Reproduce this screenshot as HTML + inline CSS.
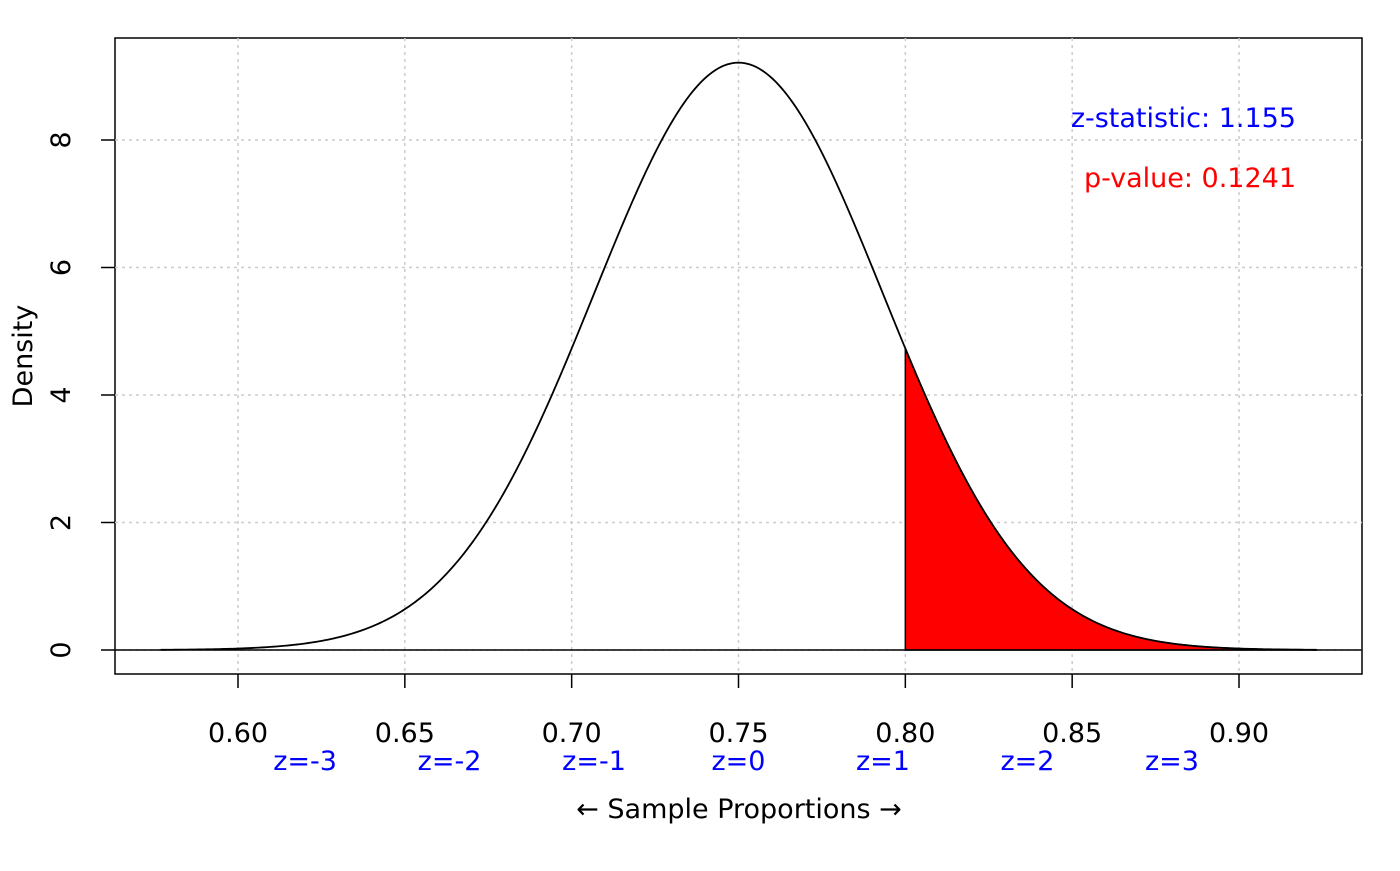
<!DOCTYPE html>
<html><head><meta charset="utf-8"><style>
body{margin:0;background:#fff}
svg text{font-family:"DejaVu Sans","Liberation Sans",sans-serif}
</style></head><body>
<svg id="chart" width="1400" height="866" viewBox="0 0 1400 866" xmlns="http://www.w3.org/2000/svg">
<rect x="115" y="38" width="1247" height="636" fill="none" stroke="#000" stroke-width="1.5"/>
<g id="grid"></g>
<g id="marks"></g>
<g id="axes"></g>
<text x="739" y="818" font-size="27" text-anchor="middle">← Sample Proportions →</text>
<text transform="translate(32,356) rotate(-90)" font-size="27" text-anchor="middle">Density</text>
<text x="1296" y="127" font-size="27" text-anchor="end" fill="#0000ff">z-statistic: 1.155</text>
<text x="1296" y="187" font-size="27" text-anchor="end" fill="#ff0000">p-value: 0.1241</text>
</svg>
<script>
const meanValue = [0.75];
const sdValue = [0.0433];
const observedValue = [0.80];
const xTicks = [0.60,0.65,0.70,0.75,0.80,0.85,0.90];
const xTickLabels = ["0.60","0.65","0.70","0.75","0.80","0.85","0.90"];
const yTicks = [0,2,4,6,8];
const zTicks = [-3,-2,-1,0,1,2,3];

const NS="http://www.w3.org/2000/svg";
const X=v=>238+(v-0.60)*(1001/0.30);
const Y=v=>650-v*63.75;
const mu=meanValue[0], sd=sdValue[0], obs=observedValue[0];
const dens=x=>Math.exp(-0.5*((x-mu)/sd)**2)/(sd*Math.sqrt(2*Math.PI));
function mk(tag,attrs,parent){const e=document.createElementNS(NS,tag);for(const k in attrs)e.setAttribute(k,attrs[k]);parent.appendChild(e);return e;}
const grid=document.getElementById('grid'),marks=document.getElementById('marks'),axes=document.getElementById('axes');
xTicks.forEach((t,i)=>{
  const g=mk('line',{x1:X(t),x2:X(t),y1:38,y2:674,stroke:'#cccccc','stroke-dasharray':'3,4','stroke-width':1.5},grid);
  
  
  const tk=mk('line',{x1:X(t),x2:X(t),y1:674,y2:688,stroke:'#000','stroke-width':1.5},axes);
  
  
  const lb=mk('text',{x:X(t),y:742,'font-size':27,'text-anchor':'middle'},axes);lb.textContent=xTickLabels[i];
  
  
});
yTicks.forEach(t=>{
  const g=mk('line',{x1:115,x2:1362,y1:Y(t),y2:Y(t),stroke:'#cccccc','stroke-dasharray':'3,4','stroke-width':1.5},grid);
  
  
  const tk=mk('line',{x1:101,x2:115,y1:Y(t),y2:Y(t),stroke:'#000','stroke-width':1.5},axes);
  
  
  const lb=mk('text',{transform:`translate(70,${Y(t)}) rotate(-90)`,'font-size':27,'text-anchor':'middle'},axes);lb.textContent=t;
  
  
});
zTicks.forEach(z=>{
  const lb=mk('text',{x:X(mu+z*sd),y:770,'font-size':27,'text-anchor':'middle',fill:'#0000ff'},axes);lb.textContent='z='+z;
  
  
});
// shaded tail
let d=`M${X(obs)},${Y(0)}`;
const hi=mu+4*sd, lo=mu-4*sd;
for(let i=0;i<=200;i++){const x=obs+(hi-obs)*i/200;d+=`L${X(x).toFixed(2)},${Y(dens(x)).toFixed(2)}`;}
d+=`L${X(hi)},${Y(0)}Z`;
const area=mk('path',{d,fill:'#ff0000',stroke:'#000','stroke-width':1.5},marks);


let c='';
for(let i=0;i<=400;i++){const x=lo+(hi-lo)*i/400;c+=(i?'L':'M')+X(x).toFixed(2)+','+Y(dens(x)).toFixed(2);}
const curve=mk('path',{d:c,fill:'none',stroke:'#000','stroke-width':1.8},marks);


const base=mk('line',{x1:115,x2:1362,y1:Y(0),y2:Y(0),stroke:'#000','stroke-width':1.5},marks);


</script>
</body></html>
